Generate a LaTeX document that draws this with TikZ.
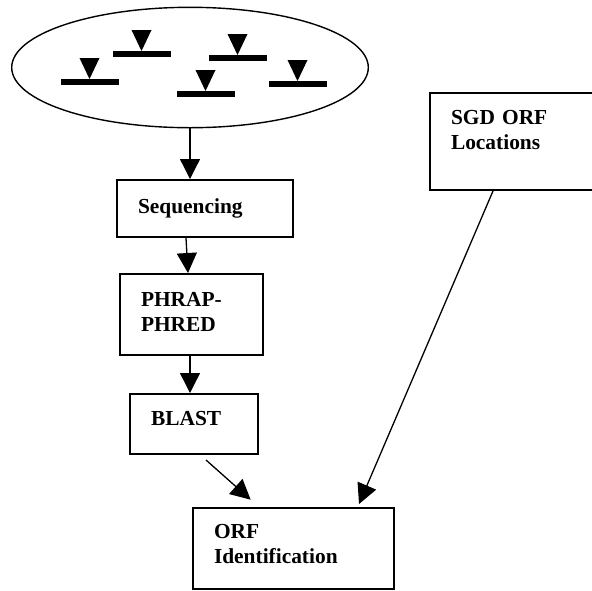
\documentclass[tikz,border=0pt]{standalone}
\usepackage{fontspec}
\setmainfont{Liberation Serif}
\usetikzlibrary{arrows.meta,shapes.geometric}

\begin{document}
\begin{tikzpicture}[x=0.5pt, y=-0.5pt, -{Triangle[length=10pt,width=10pt]}, line width=0.65pt,
  box node/.style={draw, rectangle, line width=1pt, align=left, inner xsep=10.5pt, inner ysep=0pt,
    font=\bfseries\fontsize{10.7}{12.5}\selectfont},
  pool node/.style={draw, ellipse, line width=0.7pt, inner sep=0pt}]
\path[use as bounding box, clip] (0,0) rectangle (592,590);

\node[pool node, minimum width=178.3pt, minimum height=60.2pt]  (1) at (190,67.5)    {};
\node[box node, text width=67pt, minimum height=28.5pt]         (2) at (205,208.5)   {Sequencing};
\node[box node, text width=50.5pt, minimum height=40.5pt, text depth=14.9pt] (3) at (191.5,314.5) {PHRAP-\\PHRED};
\node[box node, text width=43pt, minimum height=30pt, text depth=6pt]        (4) at (194,424)     {BLAST};
\node[box node, text width=79.5pt, minimum height=40.5pt, text depth=17.3pt] (5) at (293.5,548.5) {ORF\\Identification};
\node[box node, text width=64pt, minimum height=48.5pt, text depth=24.3pt]   (6) at (515,141.5)   {SGD ORF\\Locations};

% markers in the pool
\foreach \x/\y in {89.5/79, 141.5/51, 237.5/55, 205.5/91, 297.5/81} {
  \fill (\x-29,\y) rectangle (\x+29,\y+6);
  \fill (\x-10,\y-21) -- (\x+10,\y-21) -- (\x,\y) -- cycle;
}

\path
(1.south)                    edge (1.south |- 2.north)
([xshift=-9.5pt]2.south)     edge ([xshift=-1.75pt]3.north)
([xshift=-0.75pt]3.south)    edge ([xshift=-2pt]4.north)
([xshift=6pt,yshift=-2.5pt]4.south) edge ([xshift=29.35pt,yshift=3.65pt]5.north west)
([xshift=32pt]6.south west)  edge ([xshift=83.5pt,yshift=1.5pt]5.north west)
;
\end{tikzpicture}
\end{document}
